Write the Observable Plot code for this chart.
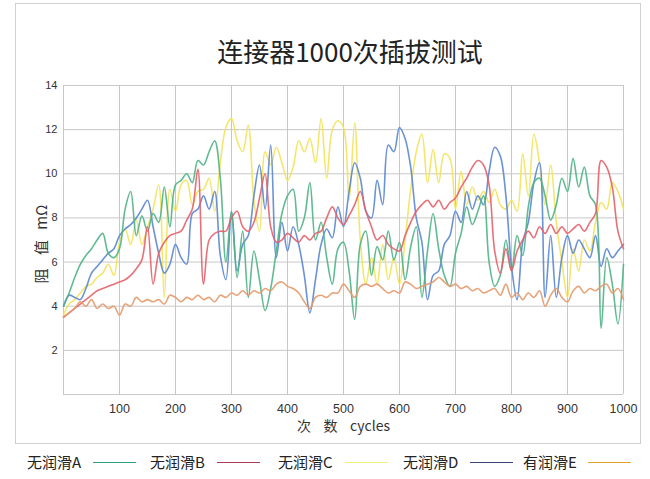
<!DOCTYPE html>
<html><head><meta charset="utf-8">
<script src="https://cdn.jsdelivr.net/npm/d3@7"></script>
<script src="https://cdn.jsdelivr.net/npm/@observablehq/plot@0.6"></script>
<style>
body{margin:0;background:#fff;font-family:"Liberation Sans",Arial,sans-serif;}
#wrap{position:relative;width:650px;height:479px;overflow:hidden;background:#fff;}
#box{position:absolute;left:15px;top:3px;width:626px;height:441px;border:1px solid #d0d0d0;box-sizing:border-box;}
#title{position:absolute;left:50px;width:600px;top:35px;text-align:center;font-size:26px;font-family:"Noto Sans CJK SC";font-weight:400;color:#222;line-height:32px;}
#chart{position:absolute;left:0;top:0;}
#ylab{position:absolute;left:40px;top:244px;transform:translate(-50%,-50%) rotate(-90deg);white-space:pre;font-size:15px;font-family:"Noto Sans CJK SC";color:#333;}
#xlab{position:absolute;left:297px;top:415px;white-space:pre;font-size:14px;font-family:"Noto Sans CJK SC";color:#333;}
.leg{position:absolute;top:451px;font-size:15px;font-family:"Noto Sans CJK SC";color:#222;line-height:22px;white-space:pre;}
.ll{position:absolute;top:462px;height:0;border-top:1.5px solid;}
</style></head>
<body><div id="wrap"><div id="box"></div><div id="title">连接器1000次插拔测试</div><div id="chart"></div>
<div id="ylab">阻    值   mΩ</div><div id="xlab">次    数    cycles</div><div id="legend"></div></div>
<script>
const cycles = d3.range(0, 1001, 10);
const seriesNames = ["无润滑A", "无润滑B", "无润滑C", "无润滑D", "有润滑E"];
const lineColors = ["#4fb386", "#e4606a", "#f3e35c", "#5a86d0", "#e39a6b"];
const legendColors = ["#2f9e84", "#b03a5a", "#f2f07a", "#3c4777", "#e0a22c"];
const xTicks = [100,200,300,400,500,600,700,800,900,1000];
const yTicks = [2,4,6,8,10,12,14];

const valuesA = [4.0,4.6,5.3,5.9,6.3,6.6,7.0,7.3,6.4,6.2,
 6.6,8.4,9.2,7.2,8.1,7.4,8.2,7.8,9.4,7.6,
 9.5,9.7,10.0,9.6,10.6,10.4,11.0,11.5,9.8,6.0,
 8.3,5.3,7.4,4.4,6.5,5.2,3.8,4.8,6.5,8.2,
 9.0,9.3,7.4,8.0,9.6,7.0,7.8,6.2,5.0,6.6,
 6.9,5.6,3.4,6.8,7.4,5.4,6.7,6.1,7.4,6.1,
 6.9,5.2,6.7,7.6,4.4,6.5,8.2,6.6,5.4,4.9,
 6.4,7.3,8.5,7.7,8.3,9.0,6.0,4.9,5.4,7.0,
 5.6,7.2,6.3,8.5,9.6,9.8,9.0,7.9,8.6,9.8,
 9.2,10.7,9.4,10.3,9.0,8.6,3.0,6.2,5.0,3.2,
 5.9];
const valuesB = [3.5,3.7,3.9,4.1,4.3,4.5,4.7,4.8,4.9,5.0,
 5.1,5.2,5.4,5.7,6.1,7.6,5.0,6.4,6.9,7.2,
 7.3,7.4,7.9,8.4,10.2,5.0,7.0,7.3,7.4,7.4,
 8.0,8.3,7.6,7.4,7.8,8.9,10.0,7.6,6.9,7.0,
 7.3,7.1,6.9,7.2,7.0,7.3,7.4,8.0,8.5,8.0,
 7.7,8.1,8.6,9.2,8.3,7.6,7.0,7.2,6.8,6.6,
 6.5,7.2,7.8,8.3,8.6,8.8,8.5,8.8,8.4,8.7,
 8.9,9.4,9.8,10.3,10.6,10.4,9.5,6.5,5.5,6.6,
 5.6,6.5,7.0,7.4,7.1,7.6,7.3,7.7,7.3,7.6,
 7.3,7.5,7.7,7.4,7.8,8.2,10.6,10.3,9.4,7.4,
 6.6];
const valuesC = [3.6,4.1,4.3,4.6,4.9,5.0,5.3,5.5,5.9,5.4,
 6.9,7.5,6.8,7.9,6.8,7.6,8.4,9.5,4.4,9.3,
 8.3,9.5,9.7,8.6,9.2,9.3,9.8,8.3,10.5,12.1,
 12.5,11.5,11.0,12.2,8.8,7.4,11.0,10.4,11.2,10.5,
 9.7,10.3,11.5,11.0,11.6,10.5,12.5,9.8,12.0,12.4,
 12.1,8.8,12.3,7.0,5.0,6.2,5.0,6.8,5.2,6.2,
 5.0,7.0,9.3,11.0,11.8,9.6,11.1,9.6,10.9,10.7,
 8.4,10.1,8.6,9.4,8.8,9.2,8.7,9.3,8.6,8.4,
 8.8,8.3,10.9,9.0,11.8,10.5,8.6,10.4,7.8,6.0,
 4.4,6.6,5.6,7.0,6.5,7.8,8.7,8.4,9.6,9.2,
 8.4];
const valuesD = [4.0,4.5,4.4,4.3,4.8,5.5,5.8,6.1,6.4,6.6,
 7.2,7.5,7.7,8.0,8.4,8.8,7.6,6.4,5.5,5.9,
 6.8,6.2,5.9,8.2,8.4,9.0,8.4,9.2,6.3,5.2,
 8.3,5.6,6.8,7.2,9.0,10.4,8.4,11.3,6.2,7.8,
 6.5,7.6,6.8,5.4,3.7,5.2,6.8,7.5,7.1,8.5,
 7.6,9.2,10.5,9.8,8.3,8.0,9.7,8.6,11.3,11.0,
 12.1,11.6,10.3,8.0,6.9,4.3,5.4,5.6,6.8,7.2,
 8.3,7.8,9.2,8.4,9.0,8.6,10.1,11.2,10.8,9.0,
 5.8,4.3,6.9,7.8,9.6,10.5,4.4,7.2,4.4,6.2,
 7.2,6.4,7.0,6.6,6.2,7.2,5.8,6.6,6.2,6.5,
 6.8];
const valuesE = [3.5,3.7,3.9,4.2,4.0,4.3,3.9,4.1,3.9,4.0,
 3.6,4.1,4.0,4.4,4.2,4.3,4.2,4.3,4.1,4.5,
 4.4,4.2,4.4,4.3,4.5,4.3,4.4,4.2,4.5,4.4,
 4.6,4.5,4.7,4.5,4.7,4.6,4.8,4.7,5.0,5.1,
 4.9,4.8,4.6,4.2,3.9,4.4,4.5,4.4,4.6,4.6,
 5.0,4.7,4.4,4.9,5.0,4.9,5.0,4.8,4.6,4.7,
 4.6,5.1,5.0,4.8,4.9,5.0,5.1,5.3,5.1,4.9,
 5.0,4.8,4.9,4.7,4.8,4.6,4.7,4.8,4.5,5.0,
 4.4,4.6,4.3,4.6,4.4,4.7,4.0,4.5,4.8,4.4,
 4.2,4.7,4.9,4.6,4.8,4.7,4.9,5.0,4.6,4.8,
 4.3];

const allValues = [valuesA, valuesB, valuesC, valuesD, valuesE];
const drawOrder = [2, 3, 0, 1, 4];
const data = [];
drawOrder.forEach(i => allValues[i].forEach((v, j) => data.push({cycle: cycles[j], value: v, series: seriesNames[i]})));

const chart = Plot.plot({
  width: 650, height: 440,
  marginLeft: 63, marginRight: 27, marginTop: 85, marginBottom: 46,
  style: {fontFamily: "'Liberation Sans', Arial, sans-serif", fontSize: "12px", color: "#333", background: "transparent"},
  x: {domain: [0, 1000]},
  y: {domain: [0, 14]},
  color: {domain: seriesNames, range: lineColors},
  marks: [
    Plot.gridX(d3.range(0, 1001, 100), {stroke: "#c8c8c8", strokeOpacity: 1, strokeWidth: 1}),
    Plot.gridY(d3.range(0, 15, 2), {stroke: "#c8c8c8", strokeOpacity: 1, strokeWidth: 1}),
    Plot.axisX(xTicks, {tickSize: 0, tickPadding: 10, label: null, fontSize: 12.5, tickFormat: d => String(d)}),
    Plot.axisY(yTicks, {tickSize: 0, tickPadding: 6, label: null, fontSize: 11, tickFormat: d => String(d)}),
    Plot.line(data, {x: "cycle", y: "value", z: "series", stroke: "series", strokeWidth: 1.6, strokeOpacity: 0.9, curve: "catmull-rom"})
  ]
});
document.getElementById("chart").appendChild(chart);

const legTextX = [27, 150, 278, 403, 523];
const legLineX = [93, 217, 345, 470, 588];
const lg = document.getElementById("legend");
seriesNames.forEach((n, i) => {
  const t = document.createElement("div");
  t.className = "leg"; t.style.left = legTextX[i] + "px"; t.textContent = n;
  lg.appendChild(t);
  const l = document.createElement("div");
  l.className = "ll"; l.style.left = legLineX[i] + "px"; l.style.width = "43px"; l.style.borderTopColor = legendColors[i];
  lg.appendChild(l);
});
</script></body></html>
